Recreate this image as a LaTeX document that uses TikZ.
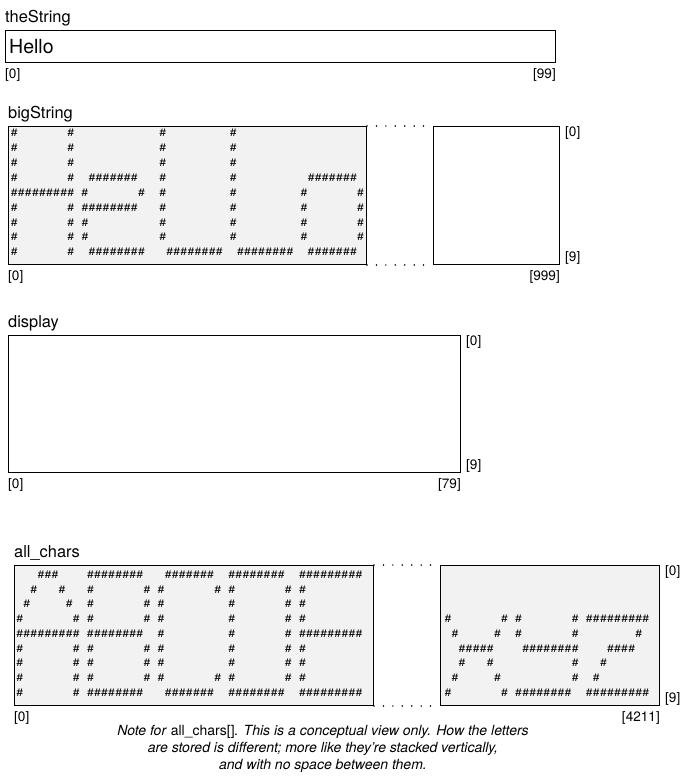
\documentclass[tikz,border=0pt]{standalone}
\usepackage{fontspec}
\setmainfont{TeX Gyre Heros}
\newfontfamily\artfont{Liberation Mono}
\usepackage{tikz}
\usetikzlibrary{positioning}
\definecolor{artbg}{HTML}{F2F2F2}
\newlength{\artw}
\setlength{\artw}{7.07pt}
% one cell of the character pictures: X is a hash, - is a blank
\newcommand\artcell[1]{\if X#1\makebox[\artw][c]{\#}\else\makebox[\artw]{}\fi}
\def\artscan#1{\ifx\relax#1\else\artcell{#1}\expandafter\artscan\fi}
\newcommand\artrow[1]{\artscan#1\relax}
\tikzset{
  arraybox/.style = {rectangle, draw=black, line width=1pt, fill=white,
                     inner sep=0pt, anchor=north west},
  artbox/.style   = {arraybox, fill=artbg},
  varlbl/.style   = {inner sep=0pt, font=\fontsize{16.4}{19}\selectfont},
  idx/.style      = {inner sep=0pt, font=\fontsize{13.6}{15}\selectfont},
  artrow/.style   = {inner sep=0pt, anchor=base west,
                     font=\artfont\bfseries\fontsize{11.4}{14}\selectfont},
  gap/.style      = {line width=1.7pt, line cap=round, dash pattern=on 0pt off 9.43pt},
}

\begin{document}
\begin{tikzpicture}[x=1pt, y=-1pt]
  \useasboundingbox (0,0) rectangle (683,779);

  % theString
  \node[arraybox, minimum width=550pt, minimum height=32pt] (strbox) at (5,30) {};
  \node[varlbl, above right=4pt and 0pt of strbox.north west] (strlbl) {theString};
  \node[anchor=west, inner sep=0pt, font=\fontsize{19.5}{22}\selectfont]
       (hello) at ([xshift=4pt]strbox.west) {Hello};
  \node[idx, below right=5.5pt and 0pt of strbox.south west] (stri0) {[0]};
  \node[idx, below left=5.5pt and 0pt of strbox.south east] (stri99) {[99]};

  % bigString
  \node[artbox, minimum width=358pt, minimum height=138pt] (bigbox) at (8,126) {};
  \node[arraybox, minimum width=126pt, minimum height=138pt,
        right=66pt of bigbox.north east, anchor=north west] (bigtail) {};
  \draw[gap] (bigbox.north east) -- (bigtail.north west);
  \draw[gap] (bigbox.south east) -- (bigtail.south west);
  \node[varlbl, above right=4pt and 0pt of bigbox.north west] (biglbl) {bigString};
  \node[idx, right=5pt of bigtail.north east, anchor=north west] (bigr0) {[0]};
  \node[idx, right=5pt of bigtail.south east, anchor=south west] (bigr9) {[9]};
  \node[idx, below right=5.5pt and 0pt of bigbox.south west] (bigi0) {[0]};
  \node[idx, below left=5.5pt and 0pt of bigtail.south east] (bigi999) {[999]};
  \foreach \r [count=\i from 0] in {
      X-------X------------X---------X,
      X-------X------------X---------X,
      X-------X------------X---------X,
      X-------X--XXXXXXX---X---------X----------XXXXXXX,
      XXXXXXXXX-X-------X--X---------X---------X-------X,
      X-------X-XXXXXXXX---X---------X---------X-------X,
      X-------X-X----------X---------X---------X-------X,
      X-------X-X----------X---------X---------X-------X,
      X-------X--XXXXXXXX---XXXXXXXX--XXXXXXXX--XXXXXXX}
    \node[artrow] (bigrow\i) at (10.5,{136.6+14.9*\i}) {\expandafter\artrow\expandafter{\r}};

  % display
  \node[arraybox, minimum width=452pt, minimum height=137pt] (dispbox) at (8,335) {};
  \node[varlbl, above right=4pt and 0pt of dispbox.north west] (displbl) {display};
  \node[idx, right=5pt of dispbox.north east, anchor=north west] (dispr0) {[0]};
  \node[idx, right=5pt of dispbox.south east, anchor=south west] (dispr9) {[9]};
  \node[idx, below right=5.5pt and 0pt of dispbox.south west] (dispi0) {[0]};
  \node[idx, below left=5.5pt and 0pt of dispbox.south east] (dispi79) {[79]};

  % all_chars
  \node[artbox, minimum width=359pt, minimum height=140pt] (allbox) at (14,565) {};
  \node[artbox, minimum width=219pt, minimum height=140pt,
        right=66pt of allbox.north east, anchor=north west] (alltail) {};
  \draw[gap] (allbox.north east) -- (alltail.north west);
  \draw[gap] (allbox.south east) -- (alltail.south west);
  \node[varlbl, above right=4pt and 0pt of allbox.north west] (alllbl) {all\_chars};
  \node[idx, right=5pt of alltail.north east, anchor=north west] (allr0) {[0]};
  \node[idx, right=5pt of alltail.south east, anchor=south west] (allr9) {[9]};
  \node[idx, below right=5.5pt and 0pt of allbox.south west] (alli0) {[0]};
  \node[idx, below left=5.5pt and 0pt of alltail.south east] (alli4211) {[4211]};
  \foreach \r [count=\i from 0] in {
      ---XXX----XXXXXXXX---XXXXXXX--XXXXXXXX--XXXXXXXXX,
      --X---X---X-------X-X-------X-X-------X-X,
      -X-----X--X-------X-X---------X-------X-X,
      X-------X-X-------X-X---------X-------X-X,
      XXXXXXXXX-XXXXXXXX--X---------X-------X-XXXXXXXXX,
      X-------X-X-------X-X---------X-------X-X,
      X-------X-X-------X-X---------X-------X-X,
      X-------X-X-------X-X-------X-X-------X-X,
      X-------X-XXXXXXXX---XXXXXXX--XXXXXXXX--XXXXXXXXX}
    \node[artrow] (allrow\i) at (16,{578.5+14.7*\i}) {\expandafter\artrow\expandafter{\r}};
  \foreach \r [count=\i from 3] in {
      X-------X-X-------X-XXXXXXXXX,
      -X-----X--X-------X--------X,
      --XXXXX----XXXXXXXX----XXXX,
      --X---X-----------X---X,
      -X-----X----------X--X,
      X-------X-XXXXXXXX--XXXXXXXXX}
    \node[artrow] (tailrow\i) at (444.2,{578.5+14.7*\i}) {\expandafter\artrow\expandafter{\r}};

  % note under all_chars
  \node[inner sep=0pt, align=center, font=\itshape\fontsize{14}{17}\selectfont]
       (note) at (323,749) {Note for \textup{all\_chars[]}. This is a conceptual view only. How the letters\\
       are stored is different; more like they’re stacked vertically,\\
       and with no space between them.};
\end{tikzpicture}
\end{document}
